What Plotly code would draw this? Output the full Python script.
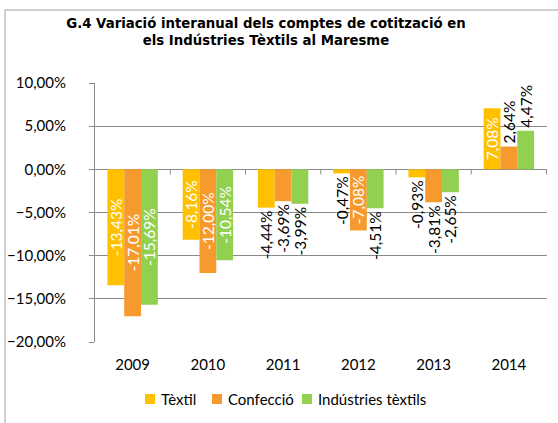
import plotly.graph_objects as go

years = ["2009", "2010", "2011", "2012", "2013", "2014"]
textil = [-13.43, -8.16, -4.44, -0.47, -0.93, 7.08]
confeccio = [-17.01, -12.00, -3.69, -7.08, -3.81, 2.64]
industries = [-15.69, -10.54, -3.99, -4.51, -2.65, 4.47]
series_names = ["Tèxtil", "Confecció", "Indústries tèxtils"]
series_values = [textil, confeccio, industries]
series_colors = ["#FFC000", "#F79A2E", "#92D050"]

W, H = 558, 423
L, R, T, B = 95, 547, 83, 342  # plot area in px
FONT = "Lato"
GRID = "#8a8a8a"

fig = go.Figure()
for name, vals, col in zip(series_names, series_values, series_colors):
    pos = ["inside" if abs(v) >= 7 else "outside" for v in vals]
    fig.add_trace(go.Bar(
        x=years, y=vals, name=name, marker=dict(color=col, line=dict(width=0)),
        texttemplate="%{y:.2f}%", textposition=pos, textangle=-90,
        insidetextanchor="middle",
        insidetextfont=dict(color="white", family=FONT, size=15.5),
        outsidetextfont=dict(color="black", family=FONT, size=15.5),
        constraintext="none", cliponaxis=False, showlegend=False,
    ))

def px_x(p):
    return (p - L) / (R - L)

def px_y(p):
    return (B - p) / (B - T)

shapes = [
    dict(type="rect", xref="paper", yref="paper",
         x0=px_x(5), x1=px_x(W + 20), y0=px_y(H + 20), y1=px_y(10),
         line=dict(color="#a0a0a0", width=1), fillcolor="rgba(0,0,0,0)", layer="below"),
]
for i in range(len(years)):
    shapes.append(dict(type="line", xref="x", yref="y", x0=i + 0.5, x1=i + 0.5,
                       y0=0, y1=-0.6, line=dict(color=GRID, width=1)))

# manual legend (square + label), positions in px
legend_x = [145, 212, 302]
legend_yc = 399
annotations = []
for name, col, lx in zip(series_names, series_colors, legend_x):
    shapes.append(dict(type="rect", xref="paper", yref="paper",
                       x0=px_x(lx), x1=px_x(lx + 10), y0=px_y(legend_yc + 5), y1=px_y(legend_yc - 5),
                       fillcolor=col, line=dict(width=0)))
    annotations.append(dict(text=name, xref="paper", yref="paper",
                            x=px_x(lx + 14), y=px_y(legend_yc), xanchor="left", yanchor="middle",
                            showarrow=False, font=dict(family=FONT, size=15, color="black")))

fig.update_layout(
    width=W, height=H,
    margin=dict(l=L, r=W - R, t=T, b=H - B, pad=0, autoexpand=False),
    paper_bgcolor="white", plot_bgcolor="white",
    separators=",.",
    barmode="group", bargap=0.33, bargroupgap=0,
    font=dict(family=FONT, size=15, color="black"),
    title=dict(
        text="G.4 Variació interanual dels comptes de cotització en<br>els Indústries Tèxtils al Maresme",
        x=266 / W, xanchor="center", xref="container",
        y=1 - 28 / H, yanchor="top", yref="container",
        font=dict(family="DejaVu Sans", size=13.3, color="black", weight="bold"),
    ),
    xaxis=dict(showgrid=False, showline=False, ticks="", tickfont=dict(size=15),
               ticklabelstandoff=12),
    yaxis=dict(range=[-20, 10], dtick=5, tickformat=".2f", ticksuffix="%",
               showgrid=True, gridcolor=GRID, gridwidth=1,
               zeroline=True, zerolinecolor=GRID, zerolinewidth=1,
               showline=True, linecolor=GRID, linewidth=1,
               ticks="outside", ticklen=5, tickcolor=GRID,
               tickfont=dict(size=15), ticklabelstandoff=20),
    showlegend=False,
    shapes=shapes,
    annotations=annotations,
)

fig.write_html("out.html", config={"displayModeBar": False},
               post_script="document.body.style.margin='0px';document.body.style.overflow='hidden';")
